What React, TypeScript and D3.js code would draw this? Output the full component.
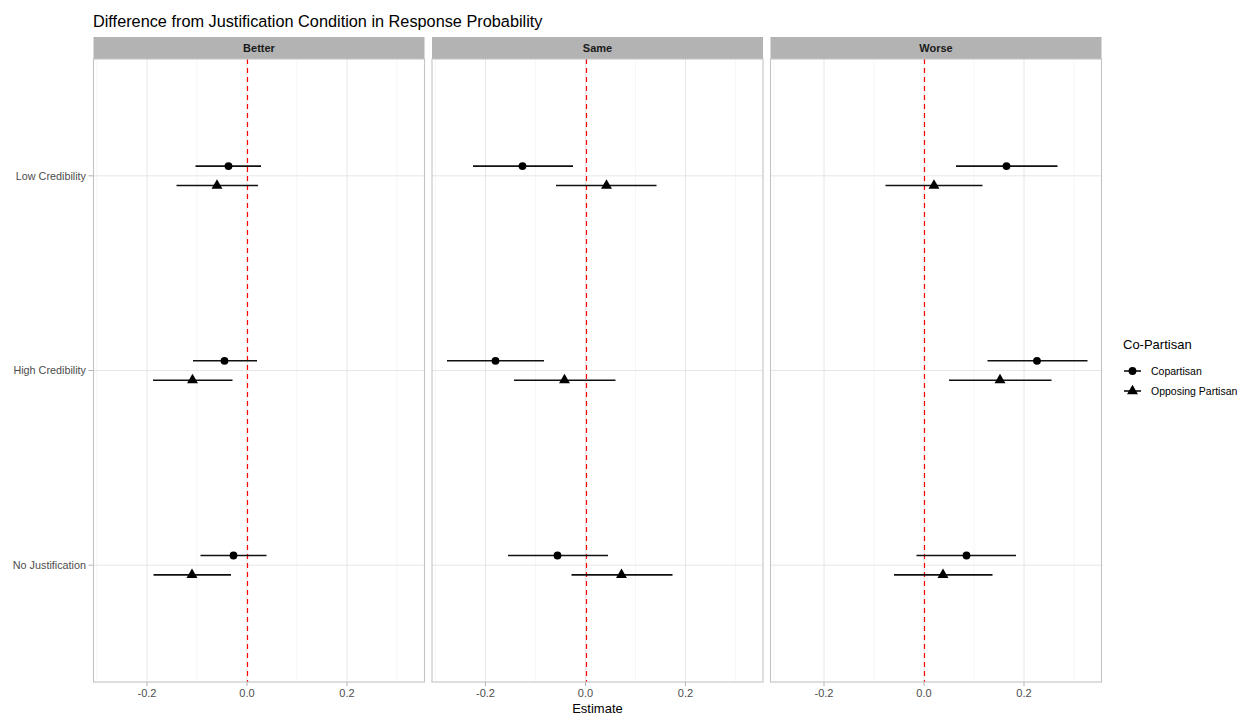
import React from "react";
import * as d3 from "d3";

const panels = ["Better", "Same", "Worse"];
const conditions = ["Low Credibility", "High Credibility", "No Justification"];
const groups = ["Copartisan", "Opposing Partisan"];

// [panel][condition] -> [estimate, low, high]
const copartisan: number[][][] = [
  [[-0.037, -0.103, 0.028], [-0.045, -0.108, 0.02], [-0.027, -0.093, 0.039]],
  [[-0.126, -0.225, -0.025], [-0.18, -0.277, -0.083], [-0.056, -0.155, 0.045]],
  [[0.165, 0.064, 0.267], [0.226, 0.127, 0.327], [0.085, -0.015, 0.184]],
];
const opposing: number[][][] = [
  [[-0.06, -0.141, 0.022], [-0.109, -0.188, -0.029], [-0.11, -0.187, -0.032]],
  [[0.042, -0.059, 0.142], [-0.042, -0.143, 0.06], [0.072, -0.028, 0.174]],
  [[0.02, -0.077, 0.117], [0.152, 0.05, 0.255], [0.038, -0.06, 0.137]],
];
const xTicks = [-0.2, 0, 0.2];
const xMinor = [-0.3, -0.1, 0.1, 0.3];

const W = 1244;
const H = 717;
const panelLeft = [93.5, 432, 770.5];
const panelW = 331;
const top = 59;
const bottom = 682;
const stripTop = 37;
const FONT = "Liberation Sans, Arial, sans-serif";

export default function App() {
  const x = d3.scaleLinear().domain([-0.307, 0.355]).range([0, panelW]);
  const y = d3
    .scalePoint<string>()
    .domain(conditions)
    .range([top, bottom])
    .padding(0.6);
  const dodge = 9.7;
  const series = [copartisan, opposing];

  const tri = d3.symbol().type(d3.symbolTriangle).size(52)() as string;

  return (
    <svg width={W} height={H} style={{ display: "block", position: "absolute", left: 0, top: 0 }} fontFamily={FONT}>
      <rect width={W} height={H} fill="#fff" />
      <text x={93} y={27} fontSize={16.3} fill="#000">
        Difference from Justification Condition in Response Probability
      </text>

      {/* y axis labels and ticks */}
      {conditions.map((c) => (
        <g key={c}>
          <text x={86} y={y(c)!} dy="0.35em" textAnchor="end" fontSize={10.8} fill="#4d4d4d">
            {c}
          </text>
          <line x1={88.5} x2={93.5} y1={y(c)!} y2={y(c)!} stroke="#b3b3b3" />
        </g>
      ))}

      {panels.map((p, pi) => {
        const left = panelLeft[pi];
        // zero reference line snapped to a pixel centre
        const zeroX = Math.round(left + x(0)) + 0.5 - left;
        return (
          <g key={p} transform={`translate(${left},0)`}>
            <rect x={0} y={stripTop} width={panelW} height={top - stripTop} fill="#b3b3b3" />
            <text x={panelW / 2} y={(stripTop + top) / 2} dy="0.35em" textAnchor="middle" fontSize={11} fontWeight="bold" fill="#1a1a1a">
              {p}
            </text>
            {xMinor.map((t) => (
              <line key={"m" + t} x1={x(t)} x2={x(t)} y1={top} y2={bottom} stroke="#f0f0f0" strokeWidth={0.6} />
            ))}
            {xTicks.map((t) => (
              <line key={"g" + t} x1={x(t)} x2={x(t)} y1={top} y2={bottom} stroke="#e6e6e6" strokeWidth={1} />
            ))}
            {conditions.map((c) => (
              <line key={c} x1={0} x2={panelW} y1={y(c)!} y2={y(c)!} stroke="#e6e6e6" strokeWidth={1} />
            ))}
            <line x1={zeroX} x2={zeroX} y1={top} y2={bottom} stroke="#ff0000" strokeWidth={1.2} strokeDasharray="5,4" />
            {series.map((s, si) =>
              conditions.map((c, ci) => {
                const [est, lo, hi] = s[pi][ci];
                const cy = y(c)! + (si === 0 ? -dodge : dodge);
                return (
                  <g key={si + c}>
                    <line x1={x(lo)} x2={x(hi)} y1={cy} y2={cy} stroke="#111" strokeWidth={1.6} />
                    {si === 0 ? (
                      <circle cx={x(est)} cy={cy} r={3.9} fill="#000" />
                    ) : (
                      <path d={tri} transform={`translate(${x(est)},${cy})`} fill="#000" />
                    )}
                  </g>
                );
              })
            )}
            <rect x={0} y={top} width={panelW} height={bottom - top} fill="none" stroke="#c4c4c4" strokeWidth={1.1} />
            {xTicks.map((t) => (
              <g key={"t" + t}>
                <line x1={x(t)} x2={x(t)} y1={bottom} y2={bottom + 4} stroke="#b3b3b3" />
                <text x={x(t)} y={bottom + 15} textAnchor="middle" fontSize={11} fill="#4d4d4d">
                  {d3.format(".1f")(t).replace("−", "-")}
                </text>
              </g>
            ))}
          </g>
        );
      })}

      <text x={(panelLeft[0] + panelLeft[2] + panelW) / 2} y={713} textAnchor="middle" fontSize={13} fill="#000">
        Estimate
      </text>

      {/* legend */}
      <text x={1123} y={349} fontSize={13} fill="#000">
        Co-Partisan
      </text>
      {groups.map((g, gi) => {
        const ly = 371 + gi * 20;
        return (
          <g key={g}>
            <line x1={1124} x2={1141} y1={ly} y2={ly} stroke="#111" strokeWidth={1.6} />
            {gi === 0 ? (
              <circle cx={1132.5} cy={ly} r={3.9} fill="#000" />
            ) : (
              <path d={tri} transform={`translate(1132.5,${ly})`} fill="#000" />
            )}
            <text x={1151} y={ly} dy="0.35em" fontSize={10.5} fill="#000">
              {g}
            </text>
          </g>
        );
      })}
    </svg>
  );
}
